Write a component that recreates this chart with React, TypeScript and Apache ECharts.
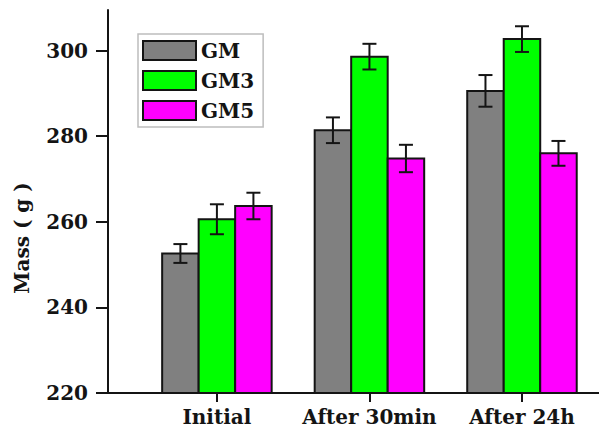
import React, { useEffect, useRef } from "react";
import * as echarts from "echarts";

const categories = ["Initial", "After 30min", "After 24h"];
const seriesNames = ["GM", "GM3", "GM5"];
const gmValues = [252.6, 281.4, 290.6];
const gmErrors = [2.2, 3.0, 3.7];
const gm3Values = [260.6, 298.6, 302.7];
const gm3Errors = [3.5, 3.0, 3.0];
const gm5Values = [263.7, 274.8, 276.0];
const gm5Errors = [3.1, 3.2, 2.9];
const yTicks = [220, 240, 260, 280, 300];
const yAxisTitle = "Mass ( g )";

const COLORS = ["#808080", "#00ff00", "#ff00ff"];
const Y_MIN = 220;
const Y_MAX = 309.5;
const X_MIN = -0.714;
const X_MAX = 2.505;
const BAR_W = 0.2393;
const FONT = "DejaVu Serif, serif";
const INK = "#141414";

function makeSeries(idx: number, values: number[], errors: number[]) {
  const offset = (idx - 1) * BAR_W;
  return {
    type: "custom",
    name: seriesNames[idx],
    itemStyle: { color: COLORS[idx] },
    encode: { x: 0, y: 1 },
    data: values.map((v, i) => [i, v, errors[i]]),
    renderItem: (params: any, api: any) => {
      const cat = api.value(0);
      const val = api.value(1);
      const err = api.value(2);
      const cx = cat + offset;
      const pTop = api.coord([cx - BAR_W / 2, val]);
      const pBase = api.coord([cx + BAR_W / 2, Y_MIN]);
      const pHi = api.coord([cx, val + err]);
      const pLo = api.coord([cx, val - err]);
      const xc = pHi[0];
      const cap = 7;
      const lineStyle = { stroke: INK, lineWidth: 2 };
      return {
        type: "group",
        children: [
          {
            type: "rect",
            shape: { x: pTop[0], y: pTop[1], width: pBase[0] - pTop[0], height: pBase[1] - pTop[1] },
            style: { fill: COLORS[idx], stroke: INK, lineWidth: 2 },
          },
          { type: "line", shape: { x1: xc, y1: pHi[1], x2: xc, y2: pLo[1] }, style: lineStyle },
          { type: "line", shape: { x1: xc - cap, y1: pHi[1], x2: xc + cap, y2: pHi[1] }, style: lineStyle },
          { type: "line", shape: { x1: xc - cap, y1: pLo[1], x2: xc + cap, y2: pLo[1] }, style: lineStyle },
        ],
      };
    },
  };
}

export default function App() {
  const ref = useRef<HTMLDivElement>(null);
  useEffect(() => {
    if (!ref.current) return;
    const chart = echarts.init(ref.current, null, { renderer: "svg" });
    chart.setOption({
      animation: false,
      backgroundColor: "#ffffff",
      grid: { left: 108, right: 0, top: 10, bottom: 37 },
      legend: {
        orient: "vertical",
        left: 138,
        top: 34,
        icon: "rect",
        itemWidth: 53,
        itemHeight: 19,
        itemGap: 9,
        padding: [6, 9, 6, 4],
        borderColor: "#bdbdbd",
        borderWidth: 1.5,
        data: seriesNames,
        itemStyle: { borderColor: INK, borderWidth: 2 },
        textStyle: { fontFamily: FONT, fontWeight: "bold", fontSize: 20, color: INK },
      },
      xAxis: {
        type: "value",
        min: X_MIN,
        max: X_MAX,
        splitLine: { show: false },
        axisLine: { show: true, onZero: false, lineStyle: { color: INK, width: 2 } },
        axisTick: { show: true, length: 9, customValues: [0, 1, 2], lineStyle: { color: INK, width: 2 } },
        axisLabel: {
          customValues: [0, 1, 2],
          formatter: (v: number) => categories[Math.round(v)] ?? "",
          fontFamily: FONT,
          fontWeight: "bold",
          fontSize: 20,
          color: INK,
          margin: 14,
        },
      },
      yAxis: {
        type: "value",
        min: Y_MIN,
        max: Y_MAX,
        splitLine: { show: false },
        axisLine: { show: true, onZero: false, lineStyle: { color: INK, width: 2 } },
        axisTick: { show: true, length: 12, customValues: yTicks, lineStyle: { color: INK, width: 2 } },
        axisLabel: {
          customValues: yTicks,
          fontFamily: FONT,
          fontWeight: "bold",
          fontSize: 20,
          color: INK,
          margin: 20,
        },
      },
      graphic: [
        {
          type: "text",
          x: 22,
          y: 238,
          rotation: Math.PI / 2,
          style: {
            text: yAxisTitle,
            font: `bold 20px ${FONT}`,
            fill: INK,
            textAlign: "center",
            textVerticalAlign: "middle",
          },
        },
      ],
      series: [
        makeSeries(0, gmValues, gmErrors),
        makeSeries(1, gm3Values, gm3Errors),
        makeSeries(2, gm5Values, gm5Errors),
      ],
    });
    return () => chart.dispose();
  }, []);
  return <div ref={ref} style={{ position: "fixed", left: 0, top: 0, width: 599, height: 430 }} />;
}
